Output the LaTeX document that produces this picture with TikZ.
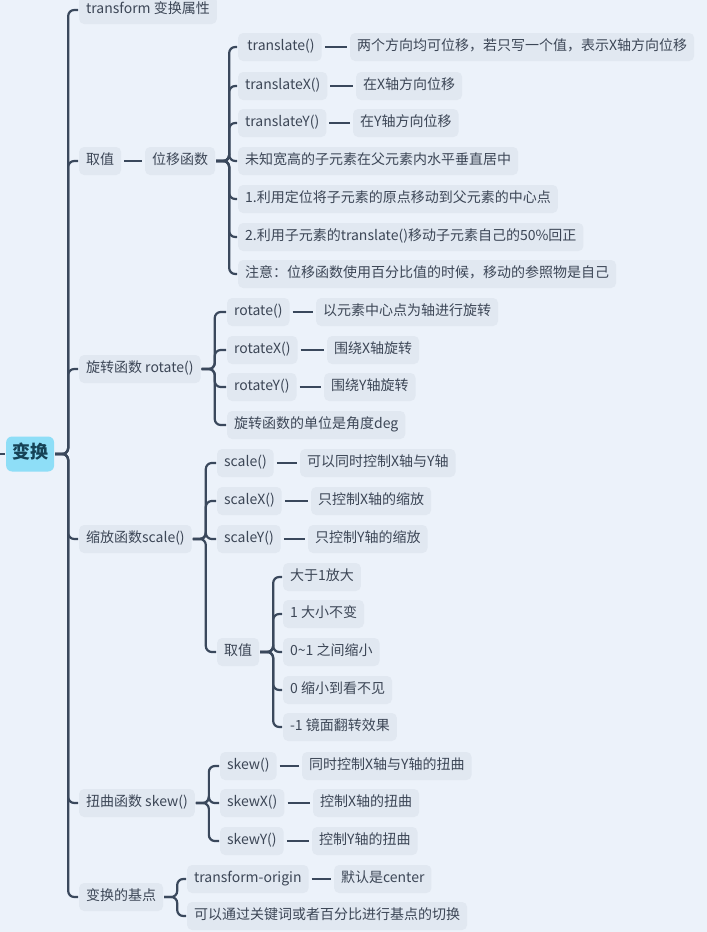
\documentclass[tikz,border=0pt]{standalone}
\usepackage{fontspec}
\setmainfont{Noto Sans CJK SC}
\usepackage{tikz}
\definecolor{bg_blue}{RGB}{236,242,250}
\definecolor{node_fill}{RGB}{225,232,241}
\definecolor{root_fill}{RGB}{142,222,247}
\definecolor{edge_dark}{RGB}{58,72,92}
\definecolor{text_dark}{RGB}{60,70,86}
\definecolor{root_text}{RGB}{22,66,86}

\begin{document}
\begin{tikzpicture}[x=1pt,y=-1pt,line width=2.2pt]
    \tikzstyle{node}=[fill=node_fill, rounded corners=5pt, text=text_dark, anchor=west,
                      inner xsep=7pt, inner ysep=0pt, minimum height=28pt,
                      text height=10.5pt, text depth=3pt, font=\fontsize{14}{16}\selectfont]
    \tikzstyle{root}=[style=node, fill=root_fill, text=root_text, rounded corners=6pt,
                      minimum height=35pt, inner xsep=6pt, text height=13pt, text depth=3.5pt,
                      font=\fontsize{18}{20}\selectfont\bfseries]
    \tikzstyle{br}=[rounded corners=6pt, to path={-- ++(13,0) |- (\tikztotarget)}]
    \tikzstyle{ln}=[shorten <=2pt, shorten >=2pt]

    \fill[bg_blue] (0,0) rectangle (707,932);
    \useasboundingbox (0,0) rectangle (707,932);

    \coordinate (s) at (0,454);
    \node[root] (r)  at (5,454)   {变换};

    \node[node] (l1) at (78,10)   {transform 变换属性};
    \node[node] (l2) at (78,161)  {取值};
    \node[node] (l3) at (78,369)  {旋转函数 rotate()};
    \node[node] (l4) at (78,539)  {缩放函数scale()};
    \node[node] (l5) at (78,803)  {扭曲函数 skew()};
    \node[node] (l6) at (78,897)  {变换的基点};

    % 位移函数
    \node[node] (w)   at (144,161) {位移函数};
    \node[node] (w1)  at (237,47)  {\,translate()};
    \node[node] (w2)  at (237,86)  {translateX()};
    \node[node] (w3)  at (237,123) {translateY()};
    \node[node] (w4)  at (237,161) {未知宽高的子元素在父元素内水平垂直居中};
    \node[node] (w5)  at (237,199) {1.利用定位将子元素的原点移动到父元素的中心点};
    \node[node] (w6)  at (237,237) {2.利用子元素的translate()移动子元素自己的50\%回正};
    \node[node] (w7)  at (237,274) {注意：位移函数使用百分比值的时候，移动的参照物是自己};
    \node[node] (w1a) at (349,47)  {两个方向均可位移，若只写一个值，表示X轴方向位移};
    \node[node] (w2a) at (355,86)  {在X轴方向位移};
    \node[node] (w3a) at (352,123) {在Y轴方向位移};

    % rotate
    \node[node] (r1)  at (226,312) {rotate()};
    \node[node] (r2)  at (226,350) {rotateX()};
    \node[node] (r3)  at (226,387) {rotateY()};
    \node[node] (r4)  at (226,425) {旋转函数的单位是角度deg};
    \node[node] (r1a) at (315,312) {以元素中心点为轴进行旋转};
    \node[node] (r2a) at (326,350) {围绕X轴旋转};
    \node[node] (r3a) at (323,387) {围绕Y轴旋转};

    % scale
    \node[node] (c1)  at (216,463) {scale()};
    \node[node] (c2)  at (216,501) {scaleX()};
    \node[node] (c3)  at (216,539) {scaleY()};
    \node[node] (c4)  at (216,652) {取值};
    \node[node] (c1a) at (299,463) {可以同时控制X轴与Y轴};
    \node[node] (c2a) at (310,501) {只控制X轴的缩放};
    \node[node] (c3a) at (307,539) {只控制Y轴的缩放};
    \node[node] (v1)  at (282,577) {大于1放大};
    \node[node] (v2)  at (282,614) {1 大小不变};
    \node[node] (v3)  at (282,652) {0\textasciitilde 1 之间缩小};
    \node[node] (v4)  at (282,690) {0 缩小到看不见};
    \node[node] (v5)  at (282,727) {-1 镜面翻转效果};

    % skew
    \node[node] (k1)  at (219,766) {skew()};
    \node[node] (k2)  at (219,803) {skewX()};
    \node[node] (k3)  at (219,841) {skewY()};
    \node[node] (k1a) at (301,766) {同时控制X轴与Y轴的扭曲};
    \node[node] (k2a) at (312,803) {控制X轴的扭曲};
    \node[node] (k3a) at (311,841) {控制Y轴的扭曲};

    % origin
    \node[node] (o1)  at (186,879) {transform-origin};
    \node[node] (o2)  at (186,916) {可以通过关键词或者百分比进行基点的切换};
    \node[node] (o1a) at (333,879) {默认是center};

    \path[edge_dark]
     (s) edge (r.west)
     (r.east) edge[br] (l1.west)
     (r.east) edge[br] (l2.west)
     (r.east) edge[br] (l3.west)
     (r.east) edge[br] (l4.west)
     (r.east) edge[br] (l5.west)
     (r.east) edge[br] (l6.west)
     (l2.east) edge[ln] (w.west)
     (w.east) edge[br] (w1.west)
     (w.east) edge[br] (w2.west)
     (w.east) edge[br] (w3.west)
     (w.east) edge[br] (w4.west)
     (w.east) edge[br] (w5.west)
     (w.east) edge[br] (w6.west)
     (w.east) edge[br] (w7.west)
     (w1.east) edge[ln] (w1a.west)
     (w2.east) edge[ln] (w2a.west)
     (w3.east) edge[ln] (w3a.west)
     (l3.east) edge[br] (r1.west)
     (l3.east) edge[br] (r2.west)
     (l3.east) edge[br] (r3.west)
     (l3.east) edge[br] (r4.west)
     (r1.east) edge[ln] (r1a.west)
     (r2.east) edge[ln] (r2a.west)
     (r3.east) edge[ln] (r3a.west)
     (l4.east) edge[br] (c1.west)
     (l4.east) edge[br] (c2.west)
     (l4.east) edge[br] (c3.west)
     (l4.east) edge[br] (c4.west)
     (c1.east) edge[ln] (c1a.west)
     (c2.east) edge[ln] (c2a.west)
     (c3.east) edge[ln] (c3a.west)
     (c4.east) edge[br] (v1.west)
     (c4.east) edge[br] (v2.west)
     (c4.east) edge[br] (v3.west)
     (c4.east) edge[br] (v4.west)
     (c4.east) edge[br] (v5.west)
     (l5.east) edge[br] (k1.west)
     (l5.east) edge[br] (k2.west)
     (l5.east) edge[br] (k3.west)
     (k1.east) edge[ln] (k1a.west)
     (k2.east) edge[ln] (k2a.west)
     (k3.east) edge[ln] (k3a.west)
     (l6.east) edge[br] (o1.west)
     (l6.east) edge[br] (o2.west)
     (o1.east) edge[ln] (o1a.west)
     ;
\end{tikzpicture}
\end{document}
